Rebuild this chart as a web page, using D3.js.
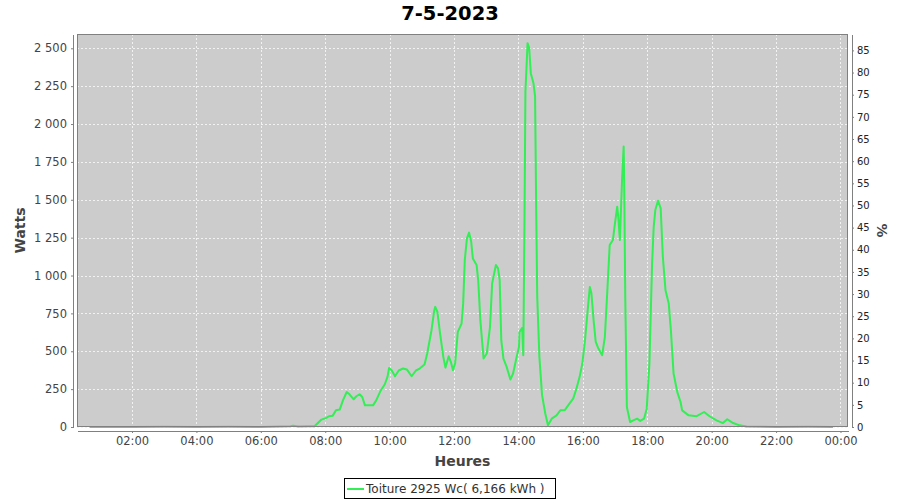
<!DOCTYPE html>
<html><head><meta charset="utf-8">
<script src="https://cdn.jsdelivr.net/npm/d3@7"></script>
<style>
body{margin:0;background:#fff;}
svg{font-family:"DejaVu Sans",sans-serif;}
</style></head>
<body><svg id="c" width="900" height="500"></svg>
<script>
const title = "7-5-2023";
const seriesName = "Toiture 2925 Wc( 6,166 kWh )";
const peakPower = 2925;
const times = ["00:41","01:30","02:00","03:00","04:00","05:00","06:00","06:55","07:00","07:10","07:30","07:40",
"07:53","08:02","08:07","08:14","08:20","08:27","08:33","08:40","08:44","08:53","08:58","09:04","09:09","09:14","09:29","09:35","09:43","09:51","09:56","09:59",
"10:04","10:10","10:17","10:25","10:32","10:41","10:49","10:56","11:05","11:10","11:18","11:23","11:25","11:29","11:34","11:40","11:44","11:50","11:54","11:58",
"12:02","12:07","12:14","12:17","12:20","12:24","12:28","12:32","12:35","12:42","12:45","12:49","12:55","13:01","13:07","13:11","13:18","13:22","13:25","13:28","13:32","13:38","13:45","13:50","13:56",
"14:01","14:02","14:07","14:09","14:11","14:13","14:17","14:20","14:23","14:28","14:31","14:33","14:35","14:39","14:44","14:50","14:55",
"15:02","15:11","15:18","15:26","15:35","15:42","15:48","15:54","15:59","16:04","16:09","16:13","16:16","16:20","16:24","16:29","16:36","16:41","16:45","16:50","16:56","16:59",
"17:04","17:06","17:09","17:13","17:16","17:17","17:19","17:22","17:28","17:34","17:41","17:47","17:54","17:59",
"18:04","18:09","18:12","18:15","18:20","18:25","18:29","18:34","18:40","18:44","18:49","18:56","19:02","19:05","19:17","19:32","19:46","19:56",
"20:09","20:21","20:29","20:40","20:52","21:05","22:00","23:00","23:46"];
const watts = [0,0,0,2,0,2,0,5,8,3,5,5,
49,60,71,75,110,115,176,231,220,183,203,216,198,143,143,176,238,282,331,390,
373,335,373,386,380,335,373,386,412,485,639,767,793,760,617,463,392,467,430,375,
420,628,683,816,1102,1245,1283,1223,1113,1069,970,705,452,485,661,948,1069,1047,970,573,452,397,313,353,452,
529,628,654,474,1256,2215,2534,2501,2336,2270,2181,1454,859,463,210,89,11,
55,77,110,110,154,187,253,331,419,573,771,925,881,705,562,518,474,595,859,1201,1234,1322,
1454,1388,1234,1631,1851,1631,859,132,33,44,55,40,55,121,
419,1080,1322,1432,1494,1443,1124,903,816,639,353,230,165,110,77,71,99,71,
44,26,51,26,11,3,0,2,0];
const yTicks = [0,250,500,750,1000,1250,1500,1750,2000,2250,2500];
const pctTicks = [0,5,10,15,20,25,30,35,40,45,50,55,60,65,70,75,80,85];
const xTickHours = [2,4,6,8,10,12,14,16,18,20,22,24];

const svg = d3.select("#c");
const L = 77, R = 848, T = 34, B = 427;
const day = new Date(2023,4,7,0,0);
const parseT = s => { const [h,m] = s.split(":").map(Number); return new Date(2023,4,7,h,m); };
const data = times.map((t,i)=>({t:parseT(t), v:watts[i]}));

const x = d3.scaleTime().domain([new Date(2023,4,7,0,17,30), new Date(2023,4,8,0,14)]).range([L,R]);
const yMax = 2594.4;
const y = d3.scaleLinear().domain([0,yMax]).range([B,T]);
const yp = d3.scaleLinear().domain([0,yMax/peakPower*100]).range([B,T]);

const loc = d3.formatLocale({decimal:",",thousands:"\u00a0",grouping:[3],currency:["","€"]});
const fmt = loc.format(",d");

// plot background
svg.append("rect").attr("x",L).attr("y",T).attr("width",R-L).attr("height",B-T).attr("fill","#cccccc");

// grid
const g = svg.append("g").attr("shape-rendering","crispEdges");
g.selectAll(".gy").data(yTicks).join("line")
 .attr("x1",L).attr("x2",R).attr("y1",d=>Math.round(y(d))+0.5).attr("y2",d=>Math.round(y(d))+0.5)
 .attr("stroke","#f2f2f2").attr("stroke-dasharray","2,2").attr("stroke-width",1);
const xTickDates = xTickHours.map(h=>new Date(2023,4,7,h,0));
g.selectAll(".gx").data(xTickDates).join("line")
 .attr("y1",T).attr("y2",B).attr("x1",d=>Math.round(x(d))+0.5).attr("x2",d=>Math.round(x(d))+0.5)
 .attr("stroke","#f2f2f2").attr("stroke-dasharray","2,2").attr("stroke-width",1);

// line
svg.append("path").datum(data)
 .attr("d", d3.line().x(d=>x(d.t)).y(d=>y(d.v)))
 .attr("fill","none").attr("stroke","#33ee55").attr("stroke-width",2).attr("stroke-linejoin","round");

// plot border
svg.append("rect").attr("x",L+0.5).attr("y",T+0.5).attr("width",R-L-1).attr("height",B-T-1)
 .attr("fill","none").attr("stroke","#808080").attr("shape-rendering","crispEdges");

// axes
const axL = d3.axisLeft(y).tickValues(yTicks).tickFormat(fmt).tickSizeInner(2).tickSizeOuter(0).tickPadding(4);
const gl = svg.append("g").attr("transform",`translate(${L-4},0)`).call(axL);
const axB = d3.axisBottom(x).tickValues(xTickDates).tickFormat(d3.timeFormat("%H:%M")).tickSizeInner(2).tickSizeOuter(0).tickPadding(4);
const gb = svg.append("g").attr("transform",`translate(0,${B+4})`).call(axB);
const axR = d3.axisRight(yp).tickValues(pctTicks).tickFormat(d3.format("d")).tickSizeInner(2).tickSizeOuter(0).tickPadding(3);
const gr = svg.append("g").attr("transform",`translate(${R+4},0)`).call(axR);
[gl,gb,gr].forEach(a=>{
  a.selectAll(".domain").attr("stroke","#808080").attr("shape-rendering","crispEdges");
  a.selectAll(".tick line").attr("stroke","#808080");
});
gl.selectAll("text").attr("font-size",11.5).attr("fill","#444").attr("font-family","DejaVu Sans");
gb.selectAll("text").attr("font-size",11.5).attr("fill","#444").attr("font-family","DejaVu Sans");
gr.selectAll("text").attr("font-size",10).attr("fill","#222").attr("font-family","DejaVu Sans");

// title
svg.append("text").attr("x",450).attr("y",20).attr("text-anchor","middle")
 .attr("font-size",19.5).attr("font-weight","bold").attr("fill","#000").text(title);

// axis titles
svg.append("text").attr("x",(L+R)/2).attr("y",466).attr("text-anchor","middle")
 .attr("font-size",14).attr("font-weight","bold").attr("fill","#444").text("Heures");
svg.append("text").attr("transform",`translate(25,${(T+B)/2}) rotate(-90)`).attr("text-anchor","middle")
 .attr("font-size",14).attr("font-weight","bold").attr("fill","#444").text("Watts");
svg.append("text").attr("transform",`translate(877,${(T+B)/2}) rotate(90)`).attr("text-anchor","middle")
 .attr("font-size",14).attr("font-weight","bold").attr("fill","#444").text("%");

// legend
const lg = svg.append("g");
lg.append("rect").attr("x",344.5).attr("y",478.5).attr("width",211).attr("height",20)
 .attr("fill","#fff").attr("stroke","#000").attr("shape-rendering","crispEdges");
lg.append("line").attr("x1",347).attr("x2",364).attr("y1",489).attr("y2",489).attr("stroke","#33ee55").attr("stroke-width",2);
lg.append("text").attr("x",366).attr("y",493).attr("font-size",12).attr("fill","#333").text(seriesName);
</script></body></html>
